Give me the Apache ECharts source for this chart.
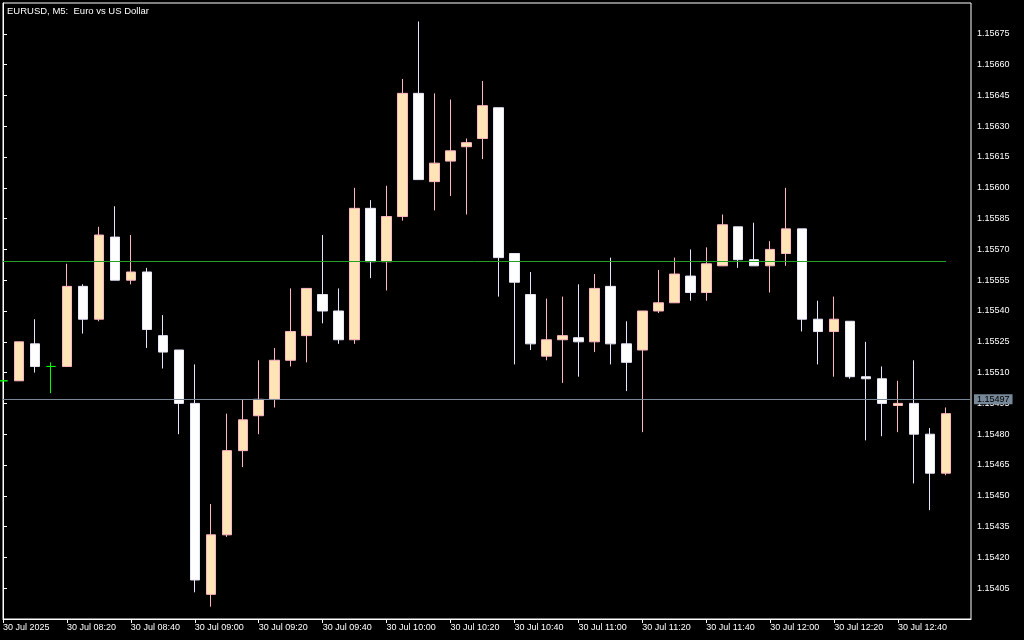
<!DOCTYPE html>
<html>
<head>
<meta charset="utf-8">
<title>EURUSD, M5</title>
<script src="https://cdn.jsdelivr.net/npm/echarts@6/dist/echarts.min.js"></script>
<style>
  html, body { margin: 0; padding: 0; background: #000; }
  #chart { width: 1024px; height: 640px; }
</style>
</head>
<body>
<div id="chart"></div>
<script>
// 30 Jul 2025, M5 bars from 08:00 to 12:55 (index = bar number)
const opens = [
  1.15506, 1.15506, 1.15524, 1.15513, 1.15513, 1.15552, 1.15536, 1.15576, 1.15555, 1.15559,
  1.15528, 1.15521, 1.15495, 1.15402, 1.15431, 1.15472, 1.15489, 1.15497, 1.15516, 1.15528,
  1.15548, 1.15540, 1.15526, 1.15590, 1.15564, 1.15586, 1.15646, 1.15603, 1.15613, 1.15620,
  1.15624, 1.15639, 1.15568, 1.15548, 1.15518, 1.15526, 1.15527, 1.15525, 1.15552, 1.15524,
  1.15521, 1.15540, 1.15544, 1.15557, 1.15549, 1.15562, 1.15581, 1.15565, 1.15562, 1.15568,
  1.15580, 1.15536, 1.15530, 1.15535, 1.15508, 1.15507, 1.15494, 1.15495, 1.15480, 1.15461
];
const closes = [
  1.15506, 1.15525, 1.15513, 1.15513, 1.15552, 1.15536, 1.15577, 1.15555, 1.15559, 1.15531,
  1.15520, 1.15495, 1.15409, 1.15431, 1.15472, 1.15487, 1.15497, 1.15516, 1.15530, 1.15551,
  1.15540, 1.15526, 1.15590, 1.15564, 1.15586, 1.15646, 1.15604, 1.15612, 1.15618, 1.15622,
  1.15640, 1.15566, 1.15554, 1.15524, 1.15526, 1.15528, 1.15525, 1.15551, 1.15524, 1.15515,
  1.15540, 1.15544, 1.15558, 1.15549, 1.15563, 1.15582, 1.15565, 1.15562, 1.15570, 1.15580,
  1.15536, 1.15530, 1.15536, 1.15508, 1.15507, 1.15495, 1.15495, 1.15480, 1.15461, 1.15490
];
const lows = [
  1.15506, 1.15506, 1.15510, 1.15500, 1.15513, 1.15529, 1.15535, 1.15555, 1.15553, 1.15522,
  1.15512, 1.15480, 1.15403, 1.15396, 1.15430, 1.15464, 1.15480, 1.15493, 1.15513, 1.15515,
  1.15534, 1.15524, 1.15524, 1.15556, 1.15550, 1.15584, 1.15604, 1.15589, 1.15596, 1.15587,
  1.15614, 1.15547, 1.15514, 1.15521, 1.15516, 1.15505, 1.15508, 1.15520, 1.15514, 1.15501,
  1.15481, 1.15539, 1.15544, 1.15545, 1.15545, 1.15562, 1.15561, 1.15562, 1.15549, 1.15562,
  1.15530, 1.15514, 1.15508, 1.15507, 1.15477, 1.15479, 1.15481, 1.15456, 1.15443, 1.15460
];
const highs = [
  1.15506, 1.15525, 1.15536, 1.15515, 1.15563, 1.15553, 1.15581, 1.15591, 1.15577, 1.15561,
  1.15538, 1.15521, 1.15514, 1.15446, 1.15490, 1.15497, 1.15516, 1.15522, 1.15551, 1.15551,
  1.15577, 1.15551, 1.15600, 1.15594, 1.15601, 1.15653, 1.15681, 1.15646, 1.15643, 1.15624,
  1.15652, 1.15639, 1.15568, 1.15559, 1.15546, 1.15547, 1.15553, 1.15558, 1.15566, 1.15535,
  1.15540, 1.15560, 1.15566, 1.15570, 1.15571, 1.15587, 1.15581, 1.15583, 1.15574, 1.15600,
  1.15580, 1.15545, 1.15547, 1.15535, 1.15525, 1.15513, 1.15506, 1.15516, 1.15483, 1.15493
];

// time axis labels (bar index -> text)
const tickPos = [0, 4, 8, 12, 16, 20, 24, 28, 32, 36, 40, 44, 48, 52, 56];
const tickLabels = [
  '30 Jul 2025', '30 Jul 08:20', '30 Jul 08:40', '30 Jul 09:00', '30 Jul 09:20',
  '30 Jul 09:40', '30 Jul 10:00', '30 Jul 10:20', '30 Jul 10:40', '30 Jul 11:00',
  '30 Jul 11:20', '30 Jul 11:40', '30 Jul 12:00', '30 Jul 12:20', '30 Jul 12:40'
];
const priceTicks = [
  1.15405, 1.15420, 1.15435, 1.15450, 1.15465, 1.15480, 1.15495, 1.15510, 1.15525, 1.15540,
  1.15555, 1.15570, 1.15585, 1.15600, 1.15615, 1.15630, 1.15645, 1.15660, 1.15675
];
const bid = 1.15497;
const level = 1.15564;

const FONT = 'Liberation Sans';
const X_MAX = 60.5625;

let data = opens.map((o, i) => [i, o, closes[i], lows[i], highs[i]]);

let option = {
  backgroundColor: '#000',
  animation: false,
  title: {
    text: 'EURUSD, M5:  Euro vs US Dollar',
    left: 7,
    top: 6,
    padding: 0,
    textStyle: { color: '#fff', fontSize: 9.5, fontWeight: 'normal', fontFamily: FONT }
  },
  grid: {
    left: 2, right: 53, top: 3, bottom: 21,
    show: true, borderColor: '#fff', borderWidth: 1
  },
  xAxis: {
    type: 'value',
    min: 0,
    max: X_MAX,
    axisLine: { show: true, lineStyle: { color: '#fff', width: 1 } },
    axisTick: { show: true, customValues: tickPos, length: 4, lineStyle: { color: '#fff' } },
    axisLabel: {
      customValues: tickPos,
      formatter: v => tickLabels[tickPos.indexOf(v)],
      align: 'left', margin: 4,
      color: '#fff', fontSize: 9, fontFamily: FONT
    },
    splitLine: { show: false }
  },
  yAxis: {
    type: 'value',
    position: 'right',
    min: 1.15390,
    max: 1.15690,
    axisLine: { show: true, lineStyle: { color: '#fff', width: 1 } },
    axisTick: { show: true, customValues: priceTicks, length: 4, lineStyle: { color: '#fff' } },
    axisLabel: {
      customValues: priceTicks,
      formatter: v => v.toFixed(5),
      margin: 6,
      color: '#fff', fontSize: 9, fontFamily: FONT
    },
    splitLine: { show: false }
  },
  series: [
    {
      type: 'candlestick',
      data: data,
      encode: { x: 0, y: [1, 2, 3, 4] },
      barWidth: 10,
      clip: true,
      itemStyle: {
        color: '#ffe4b5',
        color0: '#ffffff',
        borderColor: '#ffb6c1',
        borderColor0: '#e6e6fa',
        borderColorDoji: '#00ff00',
        borderWidth: 1
      },
      markLine: {
        symbol: 'none',
        silent: true,
        animation: false,
        data: [
          [
            {
              coord: [0, bid],
              lineStyle: { color: '#778899', type: 'solid', width: 1 },
              label: {
                show: true, position: 'end', distance: 3,
                formatter: bid.toFixed(5),
                color: '#000', backgroundColor: '#778899',
                padding: [1, 3, 0, 3],
                fontSize: 9, fontFamily: FONT
              }
            },
            { coord: [X_MAX, bid] }
          ],
          [
            { coord: [0, level], lineStyle: { color: '#22a022', type: 'solid', width: 1 }, label: { show: false } },
            { coord: [59, level] }
          ]
        ]
      }
    }
  ]
};

const chart = document.getElementById('chart');
let myChart = echarts.init(chart);
myChart.setOption(option);
</script>
</body>
</html>
